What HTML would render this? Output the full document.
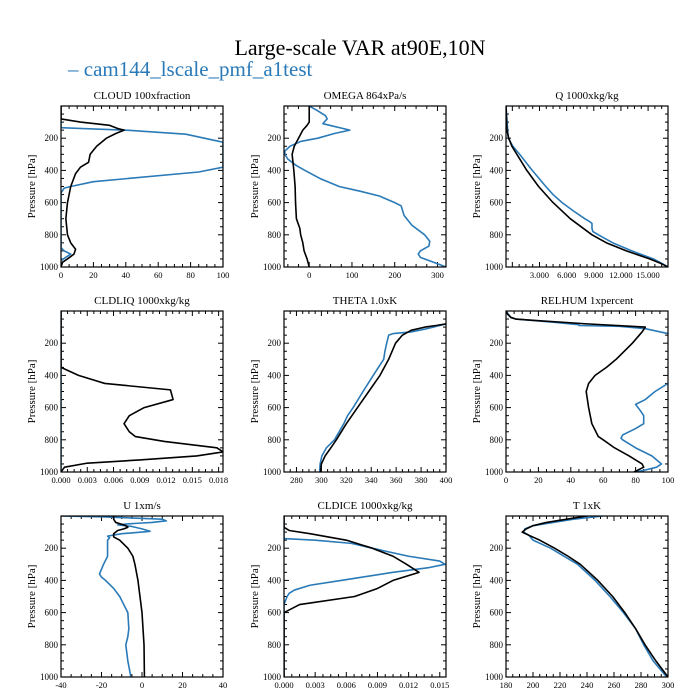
<!DOCTYPE html>
<html><head><meta charset="utf-8"><style>
body{margin:0;background:#fff;}
svg{display:block;font-family:"Liberation Serif",serif;}
</style></head><body>
<svg id="chart" width="700" height="700" viewBox="0 0 700 700">
<text x="360" y="55" text-anchor="middle" font-size="22">Large-scale VAR at90E,10N</text>
<g><text x="68" y="76" font-size="21" fill="#2a7ab8">– cam144_lscale_pmf_a1test</text></g>
</svg>
<script>
const panelTitles=["CLOUD  100xfraction","OMEGA  864xPa/s","Q  1000xkg/kg","CLDLIQ  1000xkg/kg","THETA  1.0xK","RELHUM  1xpercent","U  1xm/s","CLDICE  1000xkg/kg","T  1xK"];
const xRanges=[[0,100],[-59,320],[-0.7,17.2],[0,0.0185],[270,400],[0,100],[-40,40],[0,0.0156],[180,300]];
const xTicks=[[0,20,40,60,80,100],[0,100,200,300],[3,6,9,12,15],[0,0.003,0.006,0.009,0.012,0.015,0.018],[280,300,320,340,360,380,400],[0,20,40,60,80,100],[-40,-20,0,20,40],[0,0.003,0.006,0.009,0.012,0.015],[180,200,220,240,260,280,300]];
const xTickLabels=[["0","20","40","60","80","100"],["0","100","200","300"],["3.000","6.000","9.000","12.000","15.000"],["0.000","0.003","0.006","0.009","0.012","0.015","0.018"],["280","300","320","340","360","380","400"],["0","20","40","60","80","100"],["-40","-20","0","20","40"],["0.000","0.003","0.006","0.009","0.012","0.015"],["180","200","220","240","260","280","300"]];
const yTicks=[200,400,600,800,1000];
// CLOUD
const cloudBlackP=[0,80,100,120,140,150,170,200,250,300,350,380,420,500,600,700,800,850,890,920,950,970,1000];
const cloudBlackV=[0,0,12,30,35,39,34,28,22,18,17,12,9,6,4,3,4,6,9,8,4,1,0];
const cloudBlueP=[0,135,150,175,225,380,410,470,500,510,540,880,900,920,940,960,1000];
const cloudBlueV=[0,0,40,77,100,100,85,20,6,2,0,0,2,6,3,0,0];
// OMEGA
const omegaBlackP=[0,100,120,150,200,250,300,350,400,500,600,700,760,800,850,900,950,1000];
const omegaBlackV=[0,0,-5,-15,-25,-35,-40,-38,-36,-33,-32,-30,-22,-20,-15,-12,-5,0];
const omegaBlueP=[0,30,60,80,100,110,150,170,200,220,250,280,300,330,370,400,450,500,530,560,600,620,680,740,800,840,870,900,920,940,970,1000];
const omegaBlueV=[0,20,38,42,35,32,95,60,20,-20,-45,-57,-57,-50,-30,-10,25,70,120,165,200,215,222,240,270,282,280,260,255,260,290,320];
// Q
const qBlackP=[0,150,200,250,300,400,500,600,700,800,850,900,950,980,1000];
const qBlackV=[-0.7,-0.6,-0.4,-0.05,0.5,1.6,2.9,4.5,6.4,8.8,10.4,12.6,15.2,16.5,17.2];
const qBlueP=[0,200,250,300,400,500,550,600,650,700,720,730,760,780,800,850,900,950,980,1000];
const qBlueV=[-0.7,-0.45,0.06,0.8,2.2,3.7,4.5,5.5,6.7,8.0,8.6,8.8,8.8,8.9,9.5,11.1,13.2,15.6,16.6,17.2];
// CLDLIQ
const liqBlackP=[0,350,400,450,490,550,600,650,700,750,780,810,850,875,900,925,945,970,1000];
const liqBlackV=[0,0,0.002,0.005,0.0125,0.0128,0.0095,0.0078,0.0072,0.0078,0.0085,0.0118,0.0178,0.0185,0.0155,0.009,0.003,0.0004,0];
const liqBlueP=[0,1000];
const liqBlueV=[0,0];
// THETA
const thetaBlackP=[80,90,100,120,150,200,300,400,500,600,700,800,850,900,950,1000];
const thetaBlackV=[400,392,383,372,365,359.5,354,347,338,329,320,312,307.6,303,300,299.4];
const thetaBlueP=[80,90,110,130,140,150,200,250,300,400,500,600,650,700,800,850,900,950,1000];
const thetaBlueV=[400,395,384.6,372,357.8,354,352.4,351,350,341.6,333.4,325.5,321,318,310.5,304,300.4,299,298.6];
// RELHUM
const rhBlackP=[0,20,40,50,60,80,100,115,130,200,300,350,400,450,500,600,700,780,800,850,900,950,970,1000];
const rhBlackV=[0,1,3,6,20,50,86,85,84,78,68,62,55,51,49.5,51,53,57,60,67,76,84,85,79];
const rhBlueP=[0,40,50,70,85,90,95,110,140,160,430,450,500,550,580,620,650,700,730,770,790,800,850,900,950,970,990,1000];
const rhBlueV=[0,3,6,30,45,45,70,86,100,110,110,100,92,86,80,83,85,85,80,72,71,72,80,90,96,93,85,80];
// U
const uBlackP=[0,20,40,50,60,70,80,90,110,130,150,200,250,300,400,500,600,800,1000];
const uBlackV=[-14,-14,-13,-10.5,-8,-7,-9,-12,-14,-14,-11,-7,-4.5,-3.5,-2,-1,0,1,1.2];
const uBlueP=[0,5,10,20,30,40,45,50,55,65,80,95,100,110,125,135,150,200,250,300,330,360,380,400,450,500,550,600,700,750,800,850,900,1000];
const uBlueV=[-40,-20,-10,10,12,5,-2,-8,-12,-5,0,4,0,-10,-17,-16,-17,-17,-17,-19,-20,-21,-20,-18,-14,-11,-9,-7,-6.5,-7,-8,-7.5,-7,-5.5];
// CLDICE
const iceBlackP=[0,70,90,110,150,180,200,250,300,350,400,450,500,550,600,1000];
const iceBlackV=[0,0,0.0005,0.0025,0.006,0.0075,0.0085,0.0105,0.0118,0.013,0.0105,0.009,0.0068,0.0015,0,0];
const iceBlueP=[0,140,150,170,200,250,280,300,320,350,380,400,430,460,480,500,550,1000];
const iceBlueV=[0,0,0.003,0.0065,0.0085,0.012,0.015,0.0155,0.014,0.0105,0.0075,0.0055,0.0025,0.001,0.0005,0.0003,0,0];
// T
const tBlackP=[0,20,40,60,80,100,120,150,200,250,300,400,500,600,700,800,900,1000];
const tBlackV=[240,225,210,200,195,192,197,205,216,226,235,248,259,268,276,283,291,300];
const tBlueP=[0,20,40,60,80,100,120,150,200,300,400,500,600,700,800,900,1000];
const tBlueV=[252,230,215,200,194,193,197,200,213,233,246,257,267,276,282,289,299];

const seriesBlack=[[cloudBlackP,cloudBlackV],[omegaBlackP,omegaBlackV],[qBlackP,qBlackV],[liqBlackP,liqBlackV],[thetaBlackP,thetaBlackV],[rhBlackP,rhBlackV],[uBlackP,uBlackV],[iceBlackP,iceBlackV],[tBlackP,tBlackV]];
const seriesBlue=[[cloudBlueP,cloudBlueV],[omegaBlueP,omegaBlueV],[qBlueP,qBlueV],[liqBlueP,liqBlueV],[thetaBlueP,thetaBlueV],[rhBlueP,rhBlueV],[uBlueP,uBlueV],[iceBlueP,iceBlueV],[tBlueP,tBlueV]];
const slugs=["cloud","omega","q","cldliq","theta","relhum","u","cldice","t"];

const NS="http://www.w3.org/2000/svg";
const svg=document.getElementById('chart');
const colX=[61,284,506], rowY=[106,311,516], W=162, H=161;
function mk(tag,attrs,parent){const e=document.createElementNS(NS,tag);for(const k in attrs)e.setAttribute(k,attrs[k]);parent.appendChild(e);return e;}
const defs=mk('defs',{},svg);
for(let i=0;i<9;i++){
  const x0=colX[i%3], y0=rowY[Math.floor(i/3)];
  const [xmin,xmax]=xRanges[i];
  const sx=v=>x0+(v-xmin)/(xmax-xmin)*W;
  const sy=p=>y0+p/1000*H;
  const g=mk('g',{},svg);
  
  
  const cp=mk('clipPath',{id:'c'+i},defs);
  mk('rect',{x:x0,y:y0,width:W,height:H},cp);
  const t=mk('text',{x:x0+W/2,y:y0-7,'text-anchor':'middle','font-size':'11'},g);
  t.textContent=panelTitles[i];
  
  
  const yl=mk('text',{transform:`translate(${x0-26},${y0+H/2}) rotate(-90)`,'text-anchor':'middle','font-size':'11'},g);
  yl.textContent='Pressure [hPa]';
  
  
  // y ticks
  for(let p=50;p<=1000;p+=50){
    const major=p%200===0, L=major?5:3, y=sy(p);
    mk('line',{x1:x0,x2:x0+L,y1:y,y2:y,stroke:'#000','stroke-width':1},g);
    mk('line',{x1:x0+W,x2:x0+W-L,y1:y,y2:y,stroke:'#000','stroke-width':1},g);
  }
  yTicks.forEach(p=>{const tt=mk('text',{x:x0-3,y:sy(p)+3,'text-anchor':'end','font-size':'9'},g);tt.textContent=String(p);
    
    });
  // x ticks
  const tk=xTicks[i], step=tk[1]-tk[0];
  for(let v=tk[0]-step*2;v<=xmax+1e-9;v+=step/4){
    if(v<xmin-1e-9)continue;
    const k=Math.round((v-tk[0])/(step/4));
    const major=k%4===0, L=major?5:3, x=sx(v);
    mk('line',{x1:x,x2:x,y1:y0+H,y2:y0+H-L,stroke:'#000','stroke-width':1},g);
    mk('line',{x1:x,x2:x,y1:y0,y2:y0+L,stroke:'#000','stroke-width':1},g);
  }
  tk.forEach((v,j)=>{const tt=mk('text',{x:sx(v),y:y0+H+11,'text-anchor':'middle','font-size':'8.5'},g);tt.textContent=xTickLabels[i][j];
    
    });
  // series
  [[seriesBlue[i],'#2a7ab8','blue'],[seriesBlack[i],'#000','black']].forEach(([s,c,n])=>{
    const d=s[0].map((p,j)=>(j?'L':'M')+sx(s[1][j]).toFixed(2)+','+sy(p).toFixed(2)).join('');
    const path=mk('path',{d:d,fill:'none',stroke:c,'stroke-width':1.6,'clip-path':`url(#c${i})`,'stroke-linejoin':'round'},g);
    
    
  });
  mk('rect',{x:x0,y:y0,width:W,height:H,fill:'none',stroke:'#000','stroke-width':1.2},g);
}
</script>
</body></html>
